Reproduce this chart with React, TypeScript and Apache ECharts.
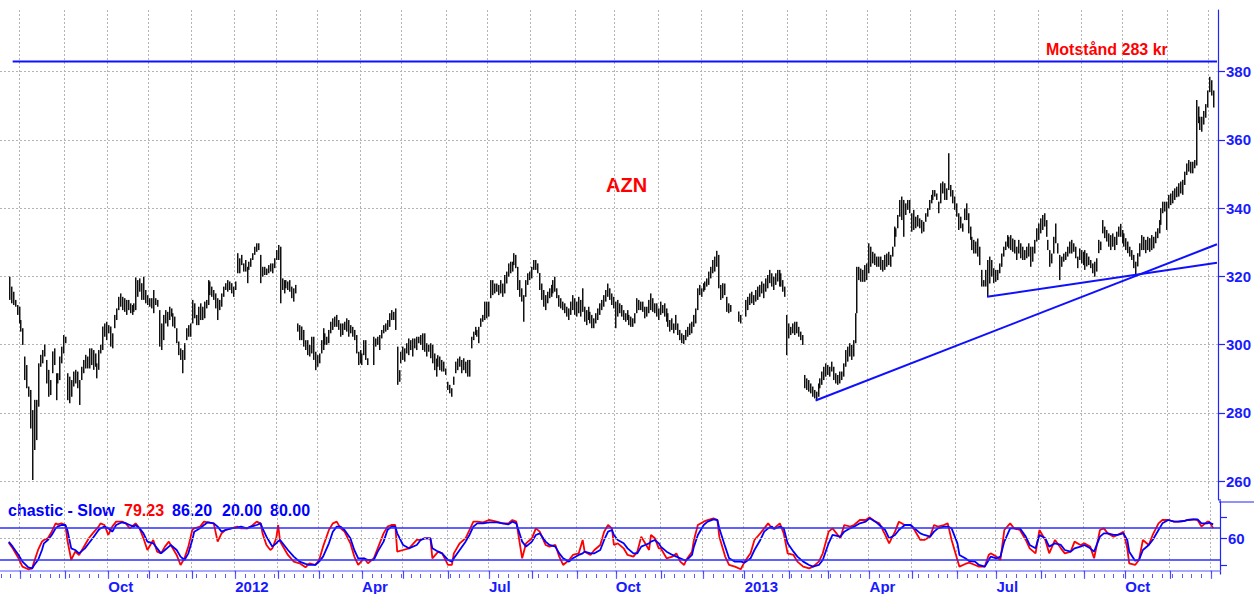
import React, { useEffect, useRef } from 'react';
import * as echarts from 'echarts';

const FONT = 'Liberation Sans, Arial, sans-serif';

// ---- time axis: weekdays (trading calendar) ----
const AXIS_START = '2011-07-18';
const AXIS_END = '2013-12-06';
const DATA_START = '2011-07-22';

function weekdays(start: string, end: string): string[] {
  const out: string[] = [];
  const d = new Date(start + 'T00:00:00Z');
  const e = new Date(end + 'T00:00:00Z');
  while (d <= e) {
    const wd = d.getUTCDay();
    if (wd !== 0 && wd !== 6) out.push(d.toISOString().slice(0, 10));
    d.setUTCDate(d.getUTCDate() + 1);
  }
  return out;
}
const dates = weekdays(AXIS_START, AXIS_END);
const OFFSET = dates.indexOf(DATA_START);

// ---- AZN daily bars (low / high), first value = 2011-07-22 ----
const lows: (number | null)[] = [
  313.1,312.1,311.6,311.1,308.7,306.2,303.8,299.9,289.6,287.2,
  284.7,275.4,260.3,269.1,272.0,281.8,293.5,294.5,296.5,288.6,
  284.7,285.2,291.6,294.0,283.7,288.6,289.6,294.5,297.4,300.4,
  283.7,282.8,284.7,287.7,288.6,287.2,282.3,289.6,291.6,293.0,
  293.0,293.0,294.0,292.6,293.5,290.1,292.6,297.4,298.4,302.3,
  301.3,303.3,299.4,298.9,304.8,307.2,310.1,311.1,310.1,309.6,
  308.7,310.1,309.2,308.7,309.6,310.1,314.0,315.5,313.1,313.1,
  312.1,311.6,311.1,310.6,309.2,311.6,311.1,299.4,298.4,301.3,
  306.2,305.3,307.2,308.2,305.3,304.8,300.4,296.9,295.5,291.6,
  295.5,301.3,302.3,302.3,306.2,307.7,305.7,305.7,307.2,307.2,
  307.7,310.6,311.6,314.5,314.0,313.1,310.6,307.2,310.1,311.1,
  314.0,316.0,315.5,316.0,315.0,314.0,316.0,320.9,320.9,323.3,
  321.4,321.4,318.0,321.9,322.8,324.8,326.3,327.2,327.7,318.0,
  319.9,320.4,320.4,320.9,321.4,320.9,322.4,324.8,324.8,312.1,
  316.0,315.0,316.5,316.0,315.5,313.6,312.6,315.0,303.8,301.3,
  301.3,299.4,298.4,296.9,296.5,297.4,295.5,292.5,293.5,294.5,
  297.4,298.4,299.9,299.9,300.4,303.3,304.3,305.2,305.2,304.3,
  302.3,302.8,304.3,303.8,302.3,303.3,302.3,301.3,297.4,294.0,
  294.5,294.0,296.9,295.5,294.0,null,null,294.0,299.4,299.9,
  298.4,301.8,303.3,303.8,304.3,305.2,307.2,307.2,304.3,288.2,
  289.1,294.5,295.5,295.0,297.4,296.9,298.4,296.5,298.9,298.4,
  300.4,299.9,298.4,297.9,296.5,297.9,296.0,294.5,292.5,290.6,
  293.5,292.5,292.1,292.1,291.1,286.7,285.7,284.7,288.2,291.6,
  292.5,293.5,291.6,292.5,291.6,290.6,290.6,298.9,301.3,302.8,
  302.3,300.4,305.2,306.7,307.2,307.7,308.2,313.6,314.5,315.0,
  315.5,314.5,315.0,314.0,315.0,317.9,319.9,320.9,321.4,323.3,
  322.4,316.0,314.0,312.6,306.7,314.0,317.5,318.9,319.4,321.9,
  321.9,320.9,316.0,313.1,311.1,310.1,312.1,313.6,314.0,315.0,
  315.5,313.6,311.1,310.6,310.1,309.2,308.2,307.2,308.7,310.1,
  308.7,308.2,309.2,308.2,309.6,306.7,305.7,307.2,306.2,304.8,
  304.8,306.2,307.2,308.7,310.1,311.1,312.6,314.0,313.1,311.6,
  310.6,304.8,308.2,309.2,308.2,307.2,306.7,307.2,305.7,305.2,
  305.2,306.2,309.2,310.1,310.1,309.6,307.7,308.2,309.2,310.1,
  309.6,309.2,308.2,307.2,308.7,309.2,308.2,306.7,305.2,303.8,
  304.3,303.3,304.3,302.8,301.3,300.4,300.2,301.3,302.3,302.8,
  303.3,305.2,306.2,310.1,314.5,314.0,315.5,316.0,317.0,317.5,
  319.4,320.9,321.4,322.8,316.5,313.1,313.6,314.5,309.6,309.2,
  309.6,null,null,null,306.7,306.2,null,null,308.2,310.1,
  311.6,312.1,311.6,312.6,313.1,314.0,315.0,313.6,315.5,316.5,
  318.0,317.0,316.0,317.5,318.5,317.0,317.0,315.5,314.0,296.9,
  301.8,302.8,303.3,302.8,303.3,302.3,301.3,299.9,287.2,286.7,
  286.2,285.7,284.7,284.2,283.7,284.7,287.2,288.2,289.6,290.6,
  291.1,290.6,292.1,289.6,288.6,288.2,288.6,289.6,290.6,293.5,
  295.0,296.5,295.5,296.5,300.4,309.2,318.9,318.4,318.4,318.4,
  318.9,320.9,322.8,323.8,323.3,322.8,322.8,321.9,321.4,321.9,
  322.8,323.3,322.8,325.8,328.7,331.6,334.1,337.5,336.5,331.6,
  338.0,339.5,338.5,333.1,333.6,334.1,334.6,334.1,332.6,333.1,
  336.0,337.5,339.5,341.4,342.4,343.4,342.4,338.5,341.4,344.3,
  342.4,342.4,345.3,343.4,341.4,339.5,337.5,333.6,334.1,333.1,
  336.5,336.5,332.6,330.7,327.7,326.7,326.7,325.8,323.3,317.0,
  317.0,317.0,314.0,317.9,319.9,318.0,318.4,318.9,320.9,322.8,
  325.8,327.7,328.7,328.2,327.7,327.2,326.7,324.8,326.7,325.3,
  324.8,324.8,325.3,325.8,322.8,324.3,326.7,330.2,330.7,332.6,
  333.6,334.6,331.6,327.7,322.8,323.8,326.7,329.7,326.7,318.9,
  322.8,324.3,324.8,325.8,326.7,326.7,327.2,325.3,322.4,324.8,
  323.8,323.3,321.9,322.9,323.3,322.4,320.9,319.9,321.4,326.8,
  327.7,332.6,331.2,330.2,328.7,327.7,328.7,327.7,329.2,331.6,
  331.6,329.7,328.7,327.7,326.8,325.8,324.8,322.4,320.1,322.9,
  325.8,327.7,327.7,326.8,327.7,327.2,327.7,328.2,329.7,331.2,
  332.6,335.1,338.5,339.0,333.6,340.0,340.9,341.4,342.4,343.2,
  343.4,344.3,343.9,346.8,349.7,350.7,350.2,350.2,351.7,352.5,
  364.9,362.9,362.4,364.5,366.5,369.5,374.0,373.0,369.5,
];
const highs: (number | null)[] = [
  319.9,317.0,315.5,313.1,311.6,311.1,307.2,304.8,296.5,294.0,
  287.7,286.7,280.8,283.8,283.8,294.5,297.0,298.4,300.0,295.5,
  292.6,289.6,298.0,298.9,291.6,291.6,296.5,299.4,302.8,302.3,
  291.6,290.6,289.6,292.1,292.6,292.1,289.6,293.5,295.5,297.0,
  296.5,298.9,298.9,298.4,297.4,294.5,298.4,299.9,305.3,306.2,
  306.7,305.7,305.3,303.3,308.7,310.6,314.0,315.0,314.0,313.6,
  313.1,313.1,312.1,311.6,312.1,319.7,318.9,319.4,318.0,319.9,
  316.0,314.5,313.6,313.6,316.0,313.6,313.1,310.1,306.2,308.7,
  310.1,309.6,311.1,310.6,309.2,308.2,304.8,300.9,298.9,298.4,
  300.4,304.8,305.7,306.2,313.1,312.1,308.7,311.1,312.1,311.1,
  312.6,313.1,318.9,318.5,317.0,316.0,315.0,313.6,313.1,315.0,
  317.0,318.0,318.9,318.5,318.0,317.0,318.5,326.8,325.3,326.3,
  323.8,324.8,322.8,324.3,325.3,326.8,328.7,329.7,329.7,326.3,
  322.8,322.8,322.3,323.3,323.8,323.8,325.3,327.7,329.2,328.7,
  319.4,318.9,318.9,318.5,318.9,317.0,316.5,317.5,306.2,305.7,
  305.3,304.3,301.3,301.3,299.9,302.3,302.3,297.9,296.9,297.4,
  301.3,304.8,303.3,302.3,304.3,306.7,307.7,308.2,308.7,307.2,
  306.2,306.2,306.7,307.7,307.2,305.7,305.2,304.3,302.8,297.9,
  298.4,297.4,301.3,301.3,296.0,null,null,302.3,301.8,302.3,
  302.8,304.3,305.7,306.2,307.2,309.2,310.1,309.6,310.6,299.4,
  292.5,297.9,299.4,298.9,300.4,301.8,301.3,301.8,301.8,302.3,
  302.3,302.8,303.3,303.3,300.4,299.9,300.4,299.9,297.4,295.9,
  296.9,296.5,295.5,295.0,293.0,289.1,288.2,287.2,290.6,295.0,
  295.9,296.5,295.5,296.0,295.0,295.5,295.5,302.3,303.8,305.2,
  304.3,305.2,307.7,308.7,312.6,312.6,312.6,318.9,318.9,317.9,
  317.9,317.5,318.9,317.9,320.4,321.4,323.8,324.3,324.3,326.8,
  326.3,322.8,318.9,316.5,314.5,318.9,320.9,321.4,322.8,324.8,
  324.8,323.8,321.0,317.9,316.0,314.5,315.5,316.5,317.5,318.9,
  319.9,316.5,314.5,313.6,312.6,312.1,311.1,310.6,312.6,314.5,
  313.6,312.6,314.0,313.1,316.5,311.1,310.1,311.1,309.6,308.7,
  307.7,309.2,310.6,312.1,313.1,314.5,316.0,317.9,316.5,315.0,
  314.0,312.6,313.1,312.1,311.6,310.1,309.2,310.1,308.7,308.2,
  307.7,309.2,313.6,313.1,312.6,312.6,311.1,311.1,313.1,315.0,
  313.6,312.1,312.1,310.6,312.6,311.6,312.1,310.6,309.2,307.2,
  307.7,306.2,308.7,306.2,304.3,303.3,302.8,304.3,305.2,306.2,
  306.7,308.7,310.6,316.5,317.5,316.5,318.0,318.5,319.4,321.4,
  322.8,324.8,325.8,327.5,326.3,317.5,318.0,317.9,314.0,312.1,
  311.6,null,null,null,309.7,308.7,null,null,313.1,314.0,
  315.0,315.5,314.5,316.0,317.0,317.5,318.5,317.9,319.4,320.4,
  321.9,320.9,319.9,320.9,321.9,321.9,320.9,318.9,317.0,308.7,
  306.2,305.2,306.2,306.7,306.7,305.2,303.8,302.8,291.1,290.1,
  289.6,288.6,287.7,286.7,286.2,288.6,290.1,292.1,293.5,294.5,
  294.0,293.5,295.0,293.5,291.6,291.1,292.1,292.1,294.5,298.4,
  299.4,300.4,299.9,301.3,309.2,322.8,322.8,322.3,321.9,323.3,
  323.8,329.7,328.7,327.2,326.7,325.8,325.8,325.8,324.8,326.3,
  326.7,327.2,326.3,328.7,334.6,334.1,338.0,342.4,343.4,342.4,
  341.4,342.4,342.4,338.5,339.5,337.5,338.0,337.0,336.5,336.0,
  338.5,340.0,342.4,343.9,345.3,345.3,344.3,341.9,347.3,347.8,
  347.3,345.8,356.1,346.8,345.3,343.4,341.4,338.5,337.5,335.5,
  339.9,341.4,338.5,334.6,331.6,330.7,330.2,331.1,328.7,321.9,
  318.9,321.9,324.8,325.8,324.8,322.4,321.9,321.9,323.8,326.7,
  328.7,330.2,332.1,331.6,332.1,331.1,330.7,328.7,330.7,329.7,
  328.7,327.7,328.7,329.7,328.7,328.7,330.7,334.1,335.5,337.0,
  338.0,338.5,336.5,330.7,327.7,326.7,331.6,335.5,329.7,326.3,
  325.8,326.7,327.2,328.7,330.2,330.7,329.7,328.7,325.8,328.2,
  327.7,327.2,327.7,326.8,325.8,324.8,323.8,324.3,325.3,330.7,
  330.2,336.5,334.6,333.6,332.6,332.1,332.6,331.6,333.1,334.6,
  335.4,333.6,332.6,331.2,330.2,328.7,327.7,326.3,324.3,326.8,
  329.7,332.1,331.6,330.7,331.6,331.2,332.1,331.6,333.1,334.1,
  336.5,340.0,341.9,341.9,341.9,343.9,344.3,345.1,345.8,346.3,
  347.3,347.8,348.3,350.7,353.1,354.1,353.6,353.6,354.1,371.7,
  369.8,366.8,366.8,368.5,370.5,374.5,378.5,377.5,374.5,
];

// ---- Stochastic slow: [day index from DATA_START, %K, %D] ----
const stochastic: [number, number, number][] = [
  [0,52,54],[2,41.7,44.8],[5,23.2,29.4],[7,7.7,17],[10,2.8,6.5],[12,4.6,4.6],[13,17,10.8],[15,38.6,20.1],
  [17,54.1,38.6],[18,57.2,51],[20,60.3,57.2],[22,72.6,66.5],[24,88.1,78.8],[25,86.2,81.9],[27,88.1,85],
  [29,85,85],[30,57.2,75.7],[32,20.1,41.7],[34,35.5,38.6],[36,29.4,32.4],[39,47.9,41.7],[41,60.3,51],
  [43,69.5,60.3],[46,81.9,75.7],[47,88.1,78.8],[49,85,81.9],[51,66.5,78.8],[53,81.9,72.6],[55,91.2,85],
  [58,91.2,90],[60,88.1,88.1],[62,78.8,85],[64,85,81.9],[65,88.1,85],[67,78.8,78.8],[69,60.3,69.5],
  [71,38.6,54.1],[74,57.2,51],[76,35.5,41.7],[78,32.4,32.4],[80,44.8,38.6],[82,54.1,44.8],[83,47.9,47.9],
  [86,29.4,38.6],[88,10.8,26.3],[90,23.2,20.1],[92,44.8,32.4],[94,75.7,57.2],[95,78.8,72.6],[98,81.9,78.8],
  [100,91.2,85],[102,90,90],[105,88.1,88.1],[107,54.1,81.9],[109,69.5,72.6],[111,75.7,75.7],[114,78.8,78.8],
  [117,81.9,80.1],[119,78.8,81.9],[122,78.8,78.8],[124,81.9,81.9],[127,91.2,85],[129,88.1,88.1],
  [130,69.5,78.8],[132,47.9,63.4],[134,38.6,51],[135,41.7,44.8],[137,60.3,51],[138,85,55],[139,54.1,57.2],
  [141,41.7,47.9],[143,29.4,38.6],[146,17,26.3],[149,13.9,17],[152,6.5,12.7],[154,13.9,10.8],[157,10.8,10.8],
  [159,20.1,17],[161,44.8,26.3],[164,75.7,51],[166,88.1,72.6],[168,91.2,81.9],[170,78.8,81.9],[172,72.6,75.7],
  [175,51,60.3],[177,26.3,38.6],[179,10.8,23.2],[182,23.2,23.2],[184,13.9,20.1],[187,23.2,20.1],
  [189,41.7,35.5],[192,69.5,54.1],[194,81.9,75.7],[196,85,81.9],[198,85,81.9],[199,35.5,69.5],
  [202,38.6,47.9],[205,41.7,41.7],[209,57.2,47.9],
  [211,57.2,57.2],[213,60.3,60.3],[216,60.3,60.3],[217,23.2,41.7],[220,35.5,35.5],[222,32.4,32.4],
  [225,10.8,20.1],[227,10.8,17],[228,32.4,23.2],[231,51,38.6],[234,60.3,54.1],[236,75.7,66.5],
  [238,91.2,81.9],[240,91.2,88.1],[243,90,88.1],[246,94.3,90],[250,91.2,90],[253,88.1,88.1],
  [256,88.1,86.2],[258,94.3,91.2],[260,91.2,88.1],[263,23.2,54.1],[265,51,44.8],[268,60.3,54.1],
  [270,78.8,66.5],[272,72.6,69.5],[275,47.9,54.1],[277,44.8,47.9],[280,47.9,44.8],[282,26.3,32.4],
  [284,10.8,23.2],[287,20.1,17],[289,29.4,23.2],[292,32.4,29.4],[294,57.2,32.4],[295,35.5,35.5],
  [298,29.4,32.4],[300,38.6,32.4],[303,47.9,38.6],[305,72.6,57.2],[307,85,72.6],[309,78.8,75.7],
  [310,47.9,66.5],[312,51,57.2],[315,41.7,51],[317,29.4,41.7],[320,26.3,32.4],[322,35.5,32.4],
  [324,63.4,44.8],[326,51,47.9],[328,38.6,51],[329,66.5,54.1],[331,60.3,57.2],[333,41.7,51],
  [334,41.7,44.8],[337,23.2,35.5],[340,26.3,29.4],[342,32.4,26.3],[344,17,23.2],[346,10.8,20.1],
  [347,20.1,18.8],[350,35.5,29.4],[351,57.2,44.8],[353,85,66.5],[356,91.2,85],[358,94.3,91.2],
  [361,97.4,95.5],[363,94.3,94.3],[364,63.4,78.8],[367,26.3,44.8],[369,10.8,23.2],[372,7.7,17],
  [375,2.8,17],[377,17,15.1],[380,32.4,23.2],[382,57.2,38.6],[385,69.5,57.2],[387,78.8,72.6],
  [389,88.1,78.8],[391,78.8,81.9],[392,78.8,77.6],[395,88.1,81.9],[397,69.5,78.8],[399,32.4,51],
  [402,29.4,35.5],[404,17,26.3],[407,7.7,17],[410,4.6,10.8],[412,7.7,7.7],[415,17,10.8],[417,32.4,20.1],
  [420,72.6,51],[422,78.8,66.5],
  [426,60.3,63.4],[428,85,72.6],[431,81.9,78.8],[433,85,81.9],[436,94.3,88.1],[439,94.3,91.2],
  [441,99.2,97.4],[444,91.2,91.2],[446,88.1,85],[449,66.5,75.7],[451,51,60.3],[454,72.6,66.5],
  [456,91.2,75.7],[459,85,85],[462,85,85],[464,75.7,78.8],[467,57.2,69.5],[469,57.2,66.5],
  [472,63.4,63.4],[474,85,72.6],[476,81.9,78.8],[479,85,81.9],[481,88.1,81.9],[483,57.2,78.8],
  [486,20.1,51],[487,7.7,29.4],[490,12.7,23.2],[492,15.1,18.2],[495,10.8,17],[497,7.7,10.8],
  [500,7.7,7.7],[502,29.4,20.1],[503,32.4,26.3],[506,26.3,23.2],[508,20.1,26.3],[510,75.7,54.1],
  [513,88.1,78.8],[515,78.8,78.8],[518,75.7,78.8],[521,57.2,63.4],[523,41.7,47.9],[526,32.4,41.7],
  [528,75.7,66.5],[531,57.2,60.3],[533,32.4,44.8],[536,57.2,51],[539,41.7,47.9],[541,32.4,38.6],
  [544,35.5,35.5],[546,54.1,41.7],[549,47.9,44.8],[551,51,47.9],[554,44.8,41.7],[556,23.2,35.5],
  [559,75.7,63.4],[561,78.8,69.5],[563,69.5,69.5],[566,63.4,66.5],[568,66.5,66.5],[571,72.6,69.5],
  [573,41.7,57.2],[574,13.9,35.5],[577,10.8,18.8],[579,20.1,20.1],[581,57.2,38.6],[584,47.9,47.9],
  [586,66.5,57.2],[589,88.1,75.7],[591,94.3,88.1],[594,94.3,94.3],[597,91.2,91.2],[599,91.2,91.2],
  [602,92.4,92.4],[604,94.3,94.3],[607,95.5,95.5],[609,94.3,95.5],[611,81.9,88.1],[614,91.2,88.1],
  [615,91.2,89.3],[617,79.23,86.2],
];

// ---- drawn levels / trend lines: [day index, price] ----
const resistanceLine: [number, number][] = [[2, 383], [620, 383]];
const trendLong: [number, number][] = [[414, 283.6], [620, 329.4]];
const trendShort: [number, number][] = [[502, 314.0], [620, 324.0]];

const priceTicks = [260, 280, 300, 320, 340, 360, 380];
const stochTicks = [10, 60, 100];
const stochLabels = [60];
const stochLevels = [20, 80];
const legendValues = ['79.23', '86.20', '20.00', '80.00'];

const monthName: Record<string, string> = { '04': 'Apr', '07': 'Jul', '10': 'Oct' };
const isMonthStart = (i: number) => i > 0 && dates[i].slice(5, 7) !== dates[i - 1].slice(5, 7);
const isQuarterStart = (i: number) => isMonthStart(i) && ['01', '04', '07', '10'].includes(dates[i].slice(5, 7));
const isMonday = (i: number) => new Date(dates[i] + 'T00:00:00Z').getUTCDay() === 1;

const BLUE = '#1a1aff';
const GRIDC = '#b4b4b4';

function buildOption(): any {
  const bars: number[][] = [];
  lows.forEach((lo, i) => {
    const hi = highs[i];
    if (lo != null && hi != null) bars.push([i + OFFSET, lo, hi]);
  });
  const shift = (pts: [number, number][]) => pts.map(([i, v]) => [i + OFFSET, v]);
  const kLine = stochastic.map(([i, k]) => [i + OFFSET, k]);
  const dLine = stochastic.map(([i, , d]) => [i + OFFSET, d]);

  const splitLine = { show: true, interval: (i: number) => isMonthStart(i), lineStyle: { color: GRIDC, type: [2, 2], width: 1 } };

  return {
    animation: false,
    backgroundColor: '#ffffff',
    textStyle: { fontFamily: FONT },
    grid: [
      { left: 0, top: 10, width: 1220, height: 490 },
      { left: 0, top: 502, width: 1220, height: 72 },
    ],
    xAxis: [
      {
        type: 'category', gridIndex: 0, data: dates, boundaryGap: true,
        axisLine: { show: false }, axisTick: { show: false }, axisLabel: { show: false },
        splitLine,
      },
      {
        type: 'category', gridIndex: 1, data: dates, boundaryGap: true, position: 'bottom',
        axisLine: { show: true, lineStyle: { color: '#8c8cff', width: 1.5 } },
        axisTick: { show: true, interval: (i: number) => isMonthStart(i), length: 8, alignWithLabel: true, lineStyle: { color: '#4646ff', width: 1.2 } },
        axisLabel: {
          show: true, interval: (i: number) => isQuarterStart(i), align: 'left', margin: 5,
          color: BLUE, fontSize: 15, fontWeight: 'bold', fontFamily: FONT,
          formatter: (v: string) => (v.slice(5, 7) === '01' ? v.slice(0, 4) : monthName[v.slice(5, 7)]),
        },
        splitLine,
      },
      {
        type: 'category', gridIndex: 1, data: dates, boundaryGap: true, position: 'bottom',
        axisLine: { show: false },
        axisTick: { show: true, interval: (i: number) => isMonday(i), length: 4, alignWithLabel: true, lineStyle: { color: '#5a5aff', width: 1 } },
        axisLabel: { show: false }, splitLine: { show: false },
      },
    ],
    yAxis: [
      {
        type: 'value', gridIndex: 0, position: 'right', min: 254.44, max: 398.09,
        axisLine: { show: true, lineStyle: { color: '#2323ff', width: 1.2 } },
        axisTick: { show: true, length: 7, customValues: priceTicks, lineStyle: { color: '#2323ff', width: 1.2 } },
        axisLabel: { customValues: priceTicks, color: BLUE, fontSize: 15, fontWeight: 'bold', fontFamily: FONT, margin: 8 },
        splitLine: { show: true, lineStyle: { color: GRIDC, type: [2, 2], width: 1 } },
      },
      {
        type: 'value', gridIndex: 1, position: 'right', min: -5.97, max: 127.7,
        axisLine: { show: true, lineStyle: { color: '#2323ff', width: 1.2 } },
        axisTick: { show: true, length: 7, customValues: stochTicks, lineStyle: { color: '#2323ff', width: 1.2 } },
        axisLabel: { customValues: stochLabels, color: BLUE, fontSize: 15, fontWeight: 'bold', fontFamily: FONT, margin: 8 },
        splitLine: { show: false },
      },
    ],
    series: [
      {
        type: 'custom', name: 'AZN', xAxisIndex: 0, yAxisIndex: 0, silent: true,
        encode: { x: 0, y: [1, 2] },
        data: bars,
        renderItem: (_p: any, api: any) => {
          const a = api.coord([api.value(0), api.value(1)]);
          const b = api.coord([api.value(0), api.value(2)]);
          const x = Math.round(a[0]) + 0.5;
          return {
            type: 'group',
            children: [
              { type: 'line', shape: { x1: x + 1, y1: a[1], x2: x + 1, y2: b[1] }, style: { stroke: '#8a8a8a', lineWidth: 1 } },
              { type: 'line', shape: { x1: x, y1: a[1], x2: x, y2: b[1] }, style: { stroke: '#111111', lineWidth: 1 } },
            ],
          };
        },
        z: 2,
      },
      {
        type: 'line', xAxisIndex: 0, yAxisIndex: 0, data: shift(resistanceLine), showSymbol: false, silent: true,
        lineStyle: { color: '#1010ff', width: 2 }, z: 3,
      },
      {
        type: 'line', xAxisIndex: 0, yAxisIndex: 0, data: shift(trendLong), showSymbol: false, silent: true,
        lineStyle: { color: '#1010ff', width: 2 }, z: 3,
      },
      {
        type: 'line', xAxisIndex: 0, yAxisIndex: 0, data: shift(trendShort), showSymbol: false, silent: true,
        lineStyle: { color: '#1010ff', width: 2 }, z: 3,
      },
      {
        type: 'line', name: '%K', xAxisIndex: 1, yAxisIndex: 1, data: kLine, showSymbol: false, silent: true,
        lineStyle: { color: '#ff0000', width: 1.8 }, z: 3,
        markLine: {
          silent: true, symbol: ['none', 'none'], label: { show: false }, animation: false,
          data: [
            ...stochLevels.map((v) => ({ yAxis: v, lineStyle: { color: '#2d2dff', width: 1.5, type: 'solid' } })),
            { yAxis: 60, lineStyle: { color: GRIDC, width: 1, type: [2, 2] } },
          ],
        },
      },
      {
        type: 'line', name: '%D', xAxisIndex: 1, yAxisIndex: 1, data: dLine, showSymbol: false, silent: true,
        lineStyle: { color: '#0000ff', width: 1.8 }, z: 4,
      },
    ],
    graphic: [
      { type: 'text', left: 606, top: 174.5, style: { text: 'AZN', fill: '#ff0000', font: `bold 20px ${FONT}` } },
      { type: 'text', left: 1046, top: 41, style: { text: 'Motstånd 283 kr', fill: '#ff0000', font: `bold 16px ${FONT}` } },
      { type: 'text', left: 8, top: 502.5, style: { text: 'chastic - Slow', fill: '#0000ff', font: `bold 16px ${FONT}` } },
      { type: 'text', left: 124, top: 502.5, style: { text: legendValues[0], fill: '#ff0000', font: `bold 16px ${FONT}` } },
      { type: 'text', left: 172, top: 502.5, style: { text: legendValues[1], fill: '#0000ff', font: `bold 16px ${FONT}` } },
      { type: 'text', left: 222, top: 502.5, style: { text: legendValues[2], fill: '#0000ff', font: `bold 16px ${FONT}` } },
      { type: 'text', left: 270, top: 502.5, style: { text: legendValues[3], fill: '#0000ff', font: `bold 16px ${FONT}` } },
      { type: 'line', shape: { x1: 1220, y1: 502, x2: 1254, y2: 502 }, style: { stroke: '#2323ff', lineWidth: 1.2 } },
      { type: 'line', shape: { x1: 1220, y1: 499, x2: 1220, y2: 503 }, style: { stroke: '#2323ff', lineWidth: 1.2 } },
    ],
  };
}

export default function App() {
  const ref = useRef<HTMLDivElement>(null);
  useEffect(() => {
    if (!ref.current) return;
    const chart = echarts.init(ref.current, undefined, { renderer: 'svg' });
    chart.setOption(buildOption());
    return () => chart.dispose();
  }, []);
  return (
    <div
      ref={ref}
      style={{ position: 'absolute', left: 0, top: 0, width: 1254, height: 594, background: '#ffffff' }}
    />
  );
}
